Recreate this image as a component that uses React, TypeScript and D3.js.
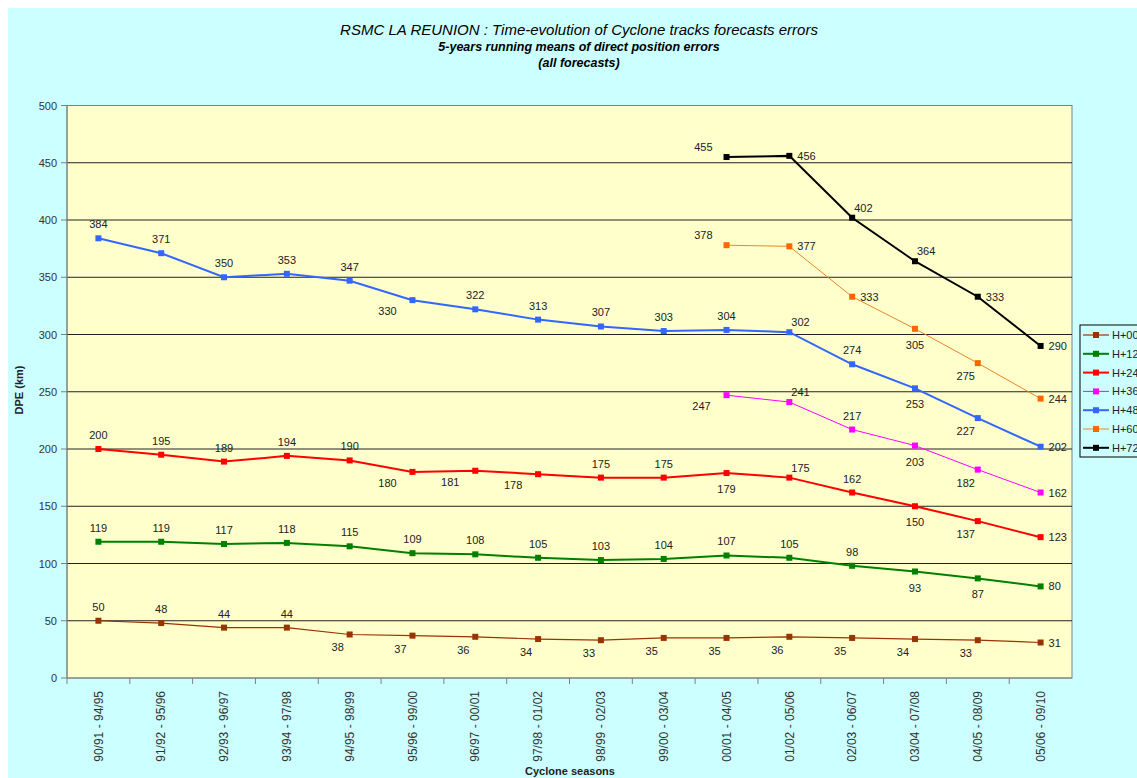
import React, { useEffect } from "react";
import * as d3 from "d3";

const categories = [
  "90/91 - 94/95", "91/92 - 95/96", "92/93 - 96/97", "93/94 - 97/98",
  "94/95 - 98/99", "95/96 - 99/00", "96/97 - 00/01", "97/98 - 01/02",
  "98/99 - 02/03", "99/00 - 03/04", "00/01 - 04/05", "01/02 - 05/06",
  "02/03 - 06/07", "03/04 - 07/08", "04/05 - 08/09", "05/06 - 09/10",
];

const h00 = [50, 48, 44, 44, 38, 37, 36, 34, 33, 35, 35, 36, 35, 34, 33, 31];
const h12 = [119, 119, 117, 118, 115, 109, 108, 105, 103, 104, 107, 105, 98, 93, 87, 80];
const h24 = [200, 195, 189, 194, 190, 180, 181, 178, 175, 175, 179, 175, 162, 150, 137, 123];
const h36 = [null, null, null, null, null, null, null, null, null, null, 247, 241, 217, 203, 182, 162];
const h48 = [384, 371, 350, 353, 347, 330, 322, 313, 307, 303, 304, 302, 274, 253, 227, 202];
const h60 = [null, null, null, null, null, null, null, null, null, null, 378, 377, 333, 305, 275, 244];
const h72 = [null, null, null, null, null, null, null, null, null, null, 455, 456, 402, 364, 333, 290];

const seriesNames = ["H+00", "H+12", "H+24", "H+36", "H+48", "H+60", "H+72"];
const yTicks = [0, 50, 100, 150, 200, 250, 300, 350, 400, 450, 500];

// label placement codes per point
const p00 = ["a", "a", "a", "a", "bl", "bl", "bl", "bl", "bl", "bl", "bl", "bl", "bl", "bl", "bl", "r"];
const p12 = ["a", "a", "a", "a", "a", "a", "a", "a", "a", "a", "a", "a", "a", "b", "b", "r"];
const p24 = ["a", "a", "a", "a", "a", "bL", "bL", "bL", "a", "a", "b", "ar", "a", "b", "bl", "r"];
const p36 = ["", "", "", "", "", "", "", "", "", "", "bL", "ar", "a", "b", "bl", "r"];
const p48 = ["a", "a", "a", "a", "a", "bL", "a", "a", "a", "a", "a", "ar", "a", "b", "bl", "r"];
const p60 = ["", "", "", "", "", "", "", "", "", "", "al", "r", "r", "b", "bl", "r"];
const p72 = ["", "", "", "", "", "", "", "", "", "", "al", "r", "ar", "ar", "r", "r"];

const SERIES = [
  { name: seriesNames[0], values: h00, pos: p00, line: "#993300", marker: "#993300", width: 1.2 },
  { name: seriesNames[1], values: h12, pos: p12, line: "#008000", marker: "#008000", width: 2 },
  { name: seriesNames[2], values: h24, pos: p24, line: "#FF0000", marker: "#FF0000", width: 2 },
  { name: seriesNames[3], values: h36, pos: p36, line: "#FF00FF", marker: "#FF00FF", width: 1 },
  { name: seriesNames[4], values: h48, pos: p48, line: "#3366FF", marker: "#3366FF", width: 2 },
  { name: seriesNames[5], values: h60, pos: p60, line: "#E8862A", marker: "#FF6600", width: 1 },
  { name: seriesNames[6], values: h72, pos: p72, line: "#000000", marker: "#000000", width: 2 },
];

const PLACE: Record<string, { anchor: string; dx: number; dy: number }> = {
  a: { anchor: "middle", dx: 0, dy: -10 },
  b: { anchor: "middle", dx: 0, dy: 20 },
  r: { anchor: "start", dx: 8, dy: 4 },
  ar: { anchor: "start", dx: 2, dy: -6 },
  al: { anchor: "end", dx: -14, dy: -6 },
  bl: { anchor: "middle", dx: -12, dy: 17 },
  bL: { anchor: "middle", dx: -25, dy: 15 },
};

const FONT = "'Liberation Sans', Arial, sans-serif";

export default function App() {
  useEffect(() => {
    document.documentElement.style.overflow = "hidden";
    document.body.style.overflow = "hidden";
  }, []);

  const W = 1137, H = 778;
  const left = 67, right = 1072, top = 105.5, bottom = 678;
  const x = d3.scaleBand<string>().domain(categories).range([left, right]);
  const y = d3.scaleLinear().domain([0, 500]).range([bottom, top]);
  const cx = (i: number) => (x(categories[i]) as number) + x.bandwidth() / 2;

  const line = d3
    .line<number | null>()
    .defined((d) => d != null)
    .x((_, i) => cx(i))
    .y((d) => y(d as number));

  const legendTop = 325;
  const legendStep = 18.8;

  return (
    <div style={{ position: "fixed", left: 8, top: 8 }}>
      <svg width={W - 8} height={H - 8} viewBox={`8 8 ${W - 8} ${H - 8}`} style={{ display: "block" }}>
        <rect x={8} y={8} width={W} height={H} fill="#CCFFFF" />
        {/* title */}
        <g fontFamily={FONT} fill="#000" textAnchor="middle">
          <text x={579} y={35} fontSize={15} fontStyle="italic" fontWeight="normal">
            RSMC LA REUNION : Time-evolution of Cyclone tracks forecasts errors
          </text>
          <text x={579} y={51} fontSize={12.5} fontStyle="italic" fontWeight="bold">
            5-years running means of direct position errors
          </text>
          <text x={579} y={67} fontSize={12.5} fontStyle="italic" fontWeight="bold">
            (all forecasts)
          </text>
        </g>
        {/* plot area */}
        <rect x={left} y={top} width={right - left} height={bottom - top} fill="#FFFFCC" stroke="#808080" strokeWidth={1} />
        {yTicks.filter((t) => t > 0 && t < 500).map((t) => (
          <line key={t} x1={left} x2={right} y1={y(t)} y2={y(t)} stroke="#222" strokeWidth={1} />
        ))}
        {/* y axis */}
        <line x1={left} x2={left} y1={top} y2={bottom} stroke="#808080" />
        {yTicks.map((t) => (
          <g key={"yt" + t}>
            <line x1={left - 6} x2={left} y1={y(t)} y2={y(t)} stroke="#808080" />
            <text x={left - 10} y={y(t) + 4} fontSize={11} fontFamily={FONT} textAnchor="end" fill="#333">
              {t}
            </text>
          </g>
        ))}
        {/* x axis */}
        <line x1={left} x2={right} y1={bottom} y2={bottom} stroke="#808080" />
        {categories.map((c, i) => (
          <g key={c}>
            <line x1={x(c) as number} x2={x(c) as number} y1={bottom} y2={bottom + 6} stroke="#808080" />
            <text
              x={cx(i)}
              y={691}
              transform={`rotate(-90, ${cx(i)}, 691)`}
              dy="0.35em"
              fontSize={12}
              fontFamily={FONT}
              textAnchor="end"
              fill="#333"
            >
              {c}
            </text>
          </g>
        ))}
        {/* axis titles */}
        <text x={570} y={775} fontSize={11} fontWeight="bold" fontFamily={FONT} textAnchor="middle" fill="#222">
          Cyclone seasons
        </text>
        <text
          x={19}
          y={390}
          transform="rotate(-90, 19, 390)"
          dy="0.35em"
          fontSize={11}
          fontWeight="bold"
          fontFamily={FONT}
          textAnchor="middle"
          fill="#222"
        >
          DPE (km)
        </text>
        {/* series */}
        {SERIES.map((s) => (
          <g key={s.name}>
            <path d={line(s.values) || ""} fill="none" stroke={s.line} strokeWidth={s.width} />
            {s.values.map((v, i) =>
              v == null ? null : (
                <rect key={i} x={cx(i) - 3} y={y(v) - 3} width={6} height={6} fill={s.marker} />
              )
            )}
            {s.values.map((v, i) => {
              if (v == null) return null;
              const p = PLACE[s.pos[i]] || PLACE.a;
              return (
                <text
                  key={"l" + i}
                  x={cx(i) + p.dx}
                  y={y(v) + p.dy}
                  fontSize={11}
                  fontFamily={FONT}
                  textAnchor={p.anchor}
                  fill="#222"
                >
                  {v}
                </text>
              );
            })}
          </g>
        ))}
        {/* legend (cut by the right edge, as in the reference) */}
        <rect x={1080} y={legendTop} width={90} height={132} fill="#CCFFFF" stroke="#000" strokeWidth={1} />
        {SERIES.map((s, i) => {
          const ly = legendTop + 10 + i * legendStep;
          return (
            <g key={"lg" + s.name}>
              <line x1={1083} x2={1109} y1={ly} y2={ly} stroke={s.line} strokeWidth={s.width} />
              <rect x={1093} y={ly - 3} width={6} height={6} fill={s.marker} />
              <text x={1112} y={ly + 4} fontSize={11} fontFamily={FONT} fill="#222">
                {s.name}
              </text>
            </g>
          );
        })}
      </svg>
    </div>
  );
}
